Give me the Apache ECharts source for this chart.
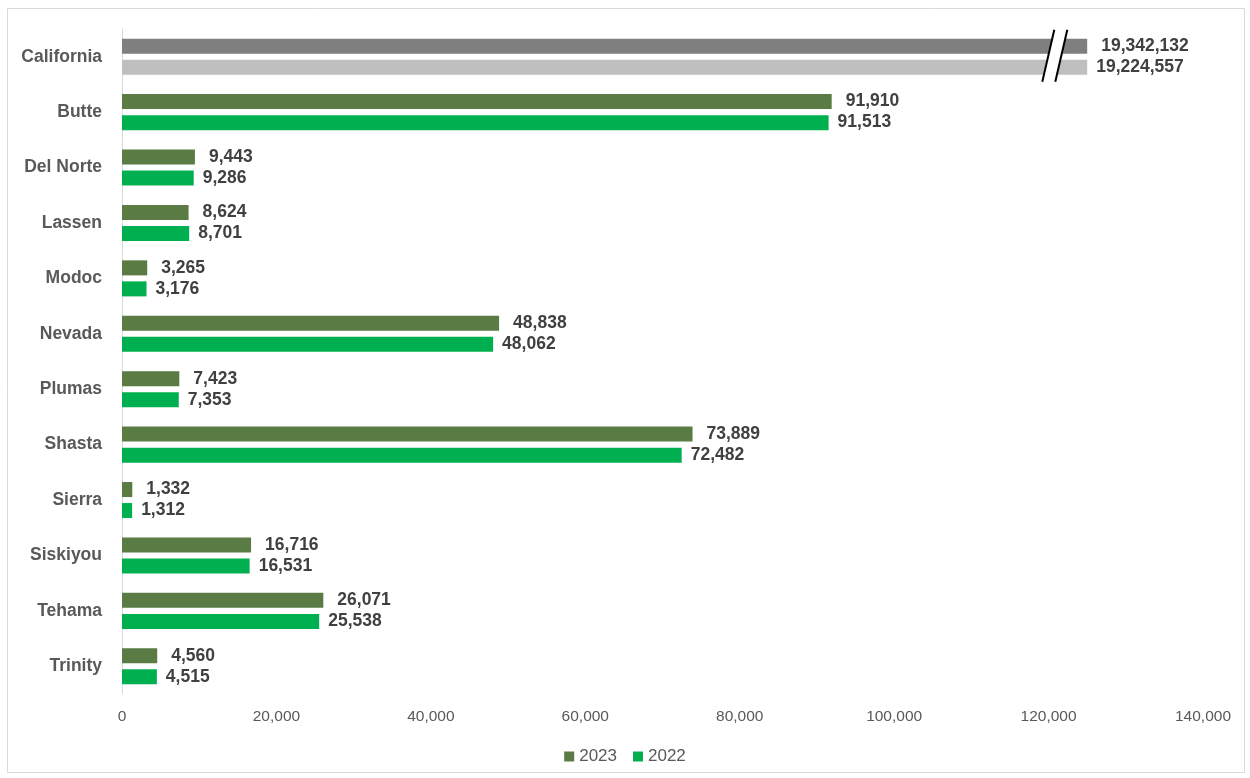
<!DOCTYPE html>
<html><head><meta charset="utf-8">
<script src="https://cdn.jsdelivr.net/npm/echarts@6/dist/echarts.min.js"></script>
<style>html,body{margin:0;padding:0;background:#fff}#c{width:1250px;height:778px}</style>
</head><body><div id="c"></div>
<script>
const categories = ['California','Butte','Del Norte','Lassen','Modoc','Nevada','Plumas','Shasta','Sierra','Siskiyou','Tehama','Trinity'];
const values2023 = [19342132, 91910, 9443, 8624, 3265, 48838, 7423, 73889, 1332, 16716, 26071, 4560];
const values2022 = [19224557, 91513, 9286, 8701, 3176, 48062, 7353, 72482, 1312, 16531, 25538, 4515];
const xTicks = [0, 20000, 40000, 60000, 80000, 100000, 120000, 140000];
const displayCap = 125000;
const breakAt = 121000;

const font = 'Liberation Sans, Arial, sans-serif';
const fmt = v => v.toLocaleString('en-US');

function mk(vals, color, greyColor) {
  return vals.map((v, i) => ({
    value: Math.min(v, displayCap),
    itemStyle: { color: v > displayCap ? greyColor : color }
  }));
}

const chart = echarts.init(document.getElementById('c'));
chart.setOption({
  animation: false,
  textStyle: { fontFamily: font },
  grid: { left: 122, right: 47, top: 29, bottom: 84, containLabel: false },
  legend: {
    bottom: 8, left: 'center', itemWidth: 10, itemHeight: 10, itemGap: 16,
    icon: 'rect',
    textStyle: { fontSize: 17, color: '#595959', fontFamily: font },
    data: ['2023', '2022']
  },
  xAxis: {
    type: 'value', min: xTicks[0], max: xTicks[xTicks.length - 1], interval: 20000,
    axisLine: { show: false }, axisTick: { show: false }, splitLine: { show: false },
    axisLabel: { fontSize: 15.5, color: '#595959', margin: 15, formatter: v => fmt(v) }
  },
  yAxis: {
    type: 'category', data: categories, inverse: true,
    axisLine: { show: true, lineStyle: { color: '#d9d9d9', width: 1 } },
    axisTick: { show: false },
    axisLabel: { fontSize: 17.5, fontWeight: 'bold', color: '#595959', margin: 20 }
  },
  series: [
    {
      name: '2023', type: 'bar', data: mk(values2023, '#5b7b45', '#7f7f7f'),
      itemStyle: { color: '#5b7b45' },
      barGap: '40%', barCategoryGap: '35%',
      label: { show: true, position: 'right', distance: 14, fontSize: 17.5, fontWeight: 'bold', color: '#404040',
        formatter: p => fmt(values2023[p.dataIndex]) }
    },
    {
      name: '2022', type: 'bar', data: mk(values2022, '#00b050', '#bfbfbf'),
      itemStyle: { color: '#00b050' },
      barGap: '40%', barCategoryGap: '35%',
      label: { show: true, position: 'right', distance: 9, fontSize: 17.5, fontWeight: 'bold', color: '#404040',
        formatter: p => fmt(values2022[p.dataIndex]) }
    }
  ]
});

const p = chart.convertToPixel({ gridIndex: 0 }, [breakAt, categories[0]]);
const bx = p[0], by = p[1];
chart.setOption({
  graphic: [
    { type: 'rect', silent: true, z: -1, shape: { x: 7.5, y: 8.5, width: 1237, height: 764 },
      style: { fill: 'none', stroke: '#d9d9d9', lineWidth: 1 } },
    { type: 'polygon', z: 100, shape: { points: [[bx - 14, by + 25], [bx - 2, by - 27], [bx + 11, by - 27], [bx - 1, by + 25]] },
      style: { fill: '#ffffff' } },
    { type: 'line', z: 101, shape: { x1: bx - 14, y1: by + 25, x2: bx - 2, y2: by - 27 },
      style: { stroke: '#000', lineWidth: 2 } },
    { type: 'line', z: 101, shape: { x1: bx - 1, y1: by + 25, x2: bx + 11, y2: by - 27 },
      style: { stroke: '#000', lineWidth: 2 } }
  ]
});
</script></body></html>
